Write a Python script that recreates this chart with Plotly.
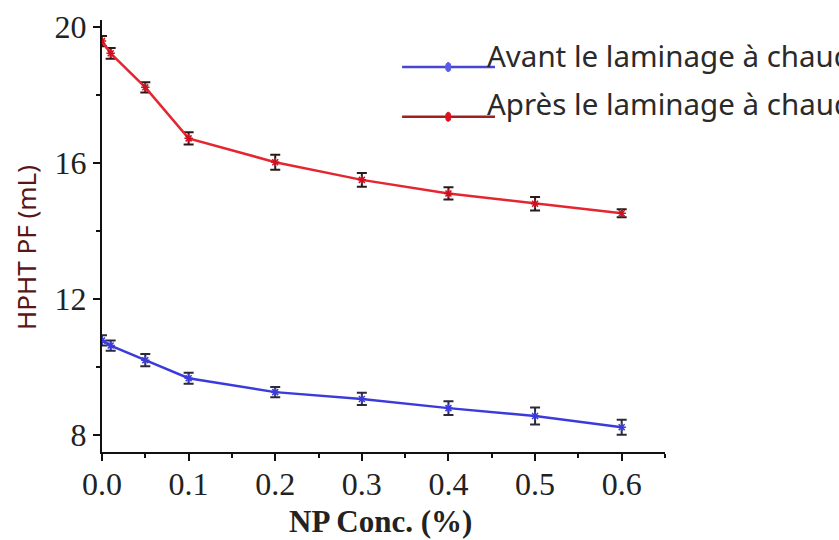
import plotly.graph_objects as go

# NP concentration (%)
conc = [0.0, 0.01, 0.05, 0.1, 0.2, 0.3, 0.4, 0.5, 0.6]

# HPHT filtrate volume (mL)
avant = [10.78, 10.63, 10.20, 9.67, 9.26, 9.06, 8.79, 8.56, 8.23]
avant_err = [0.15, 0.15, 0.18, 0.16, 0.15, 0.18, 0.20, 0.25, 0.22]
apres = [19.58, 19.22, 18.22, 16.72, 16.02, 15.50, 15.10, 14.80, 14.52]
apres_err = [0.15, 0.16, 0.15, 0.18, 0.22, 0.20, 0.18, 0.20, 0.12]

series_names = ["Avant le laminage à chaud", "Après le laminage à chaud"]

x_ticks = [0, 0.1, 0.2, 0.3, 0.4, 0.5, 0.6]
x_ticktext = ["0.0", "0.1", "0.2", "0.3", "0.4", "0.5", "0.6"]
y_ticks = [8, 12, 16, 20]

fig = go.Figure()

fig.add_trace(go.Scatter(
    x=conc, y=avant, mode="lines+markers", name=series_names[0],
    line=dict(color="#3b3bdc", width=2.5),
    marker=dict(symbol="asterisk", size=7, color="#3b3bdc",
                line=dict(color="#3b3bdc", width=1.5)),
    error_y=dict(type="data", array=avant_err, color="#2a2a3a",
                 thickness=2, width=5),
    showlegend=False,
))
fig.add_trace(go.Scatter(
    x=conc, y=apres, mode="lines+markers", name=series_names[1],
    line=dict(color="#e42630", width=2.5),
    marker=dict(symbol="asterisk", size=7, color="#d01020",
                line=dict(color="#d01020", width=1.5)),
    error_y=dict(type="data", array=apres_err, color="#2a1a1a",
                 thickness=2, width=5),
    showlegend=False,
))

# Legend drawn by hand so the long labels run off the right edge
legend_rows = [
    (0.891, 0.918, "#4646d0", "#5a5ae8"),
    (0.776, 0.806, "#a02020", "#e01020"),
]
for (yl, yt, lc, mc), label in zip(legend_rows, series_names):
    fig.add_shape(type="line", xref="paper", yref="paper",
                  x0=0.533, x1=0.698, y0=yl, y1=yl,
                  line=dict(color=lc, width=2.5))
    fig.add_shape(type="circle", xref="paper", yref="paper",
                  x0=0.6105, x1=0.6195, y0=yl - 0.0105, y1=yl + 0.0105,
                  line=dict(color=mc, width=1), fillcolor=mc)
    fig.add_annotation(xref="paper", yref="paper", x=0.680, y=yt,
                       xanchor="left", yanchor="middle", showarrow=False,
                       text=label, font=dict(family="Noto Sans", size=29.5,
                                             color="#2a2a2a"))

# Axis titles
fig.add_annotation(xref="paper", yref="paper", x=0.494, y=-0.162,
                   xanchor="center", yanchor="middle", showarrow=False,
                   text="<b>NP Conc. (%)</b>",
                   font=dict(family="Liberation Serif", size=31,
                             color="#222222"))
fig.add_annotation(xref="paper", yref="paper", x=-0.135, y=0.4745,
                   xanchor="center", yanchor="middle", showarrow=False,
                   textangle=-90, text="HPHT PF (mL)",
                   font=dict(family="Noto Sans", size=26, color="#5a1616"))

tick_font = dict(family="Liberation Serif", size=32, color="#222222")

fig.update_layout(
    width=839, height=540,
    margin=dict(l=102, r=174, t=20, b=88),
    paper_bgcolor="white", plot_bgcolor="white",
    xaxis=dict(
        range=[0, 0.65], tickvals=x_ticks, ticktext=x_ticktext,
        automargin=False, ticklabelstandoff=-4,
        showgrid=False, zeroline=False, showline=True, linecolor="#111111",
        linewidth=2, ticks="outside", ticklen=7, tickwidth=2,
        tickcolor="#111111", tickfont=tick_font,
        minor=dict(tickvals=[0.05, 0.15, 0.25, 0.35, 0.45, 0.55, 0.65],
                   ticks="outside", ticklen=4, tickwidth=2,
                   tickcolor="#111111", showgrid=False),
    ),
    yaxis=dict(
        range=[7.5, 20.2], tickvals=y_ticks,
        automargin=False,
        showgrid=False, zeroline=False, showline=True, linecolor="#111111",
        linewidth=2, ticks="outside", ticklen=7, tickwidth=2,
        tickcolor="#111111", tickfont=tick_font,
        minor=dict(tickvals=[10, 14, 18], ticks="outside", ticklen=4,
                   tickwidth=2, tickcolor="#111111", showgrid=False),
    ),
)

fig.write_html("out.html")
